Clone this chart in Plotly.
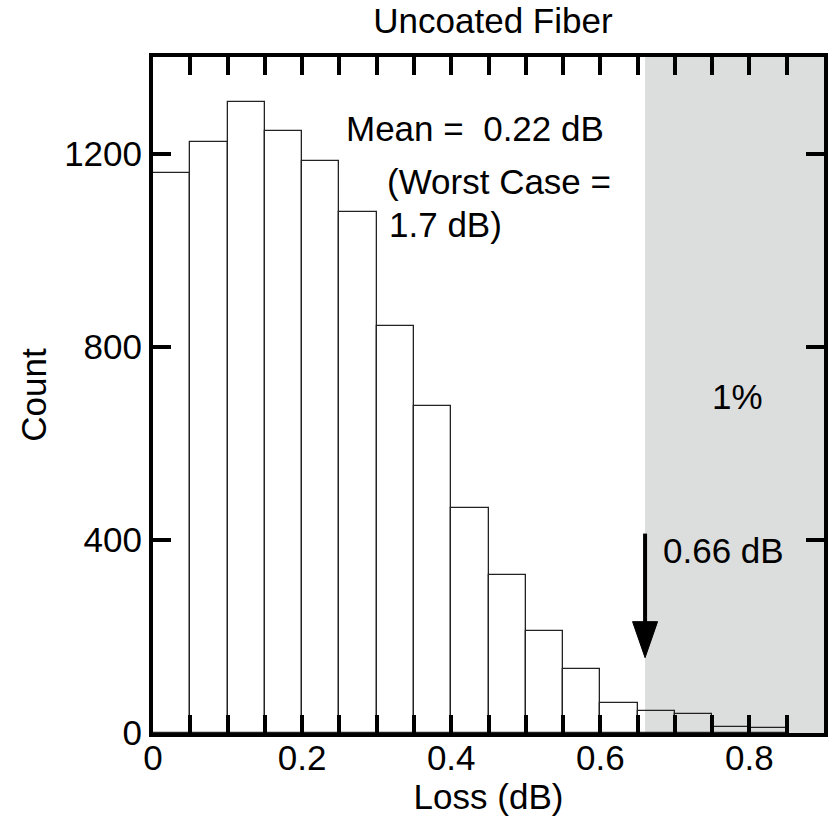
import plotly.graph_objects as go

# ---- data ----
bin_left = [0.00, 0.05, 0.10, 0.15, 0.20, 0.25, 0.30, 0.35, 0.40,
            0.45, 0.50, 0.55, 0.60, 0.65, 0.70, 0.75, 0.80]
counts = [1159, 1225, 1307, 1247, 1185, 1079, 843, 677, 465,
          328, 212, 132, 63, 46, 39, 13, 10]
bin_width = 0.05

x_tickvals = [0, 0.2, 0.4, 0.6, 0.8]
x_ticktext = ["0", "0.2", "0.4", "0.6", "0.8"]
y_tickvals = [0, 400, 800, 1200]
y_ticktext = ["0", "400", "800", "1200"]

x_range = [0, 0.9]
y_range = [0, 1400]

cutoff = 0.66          # 99th percentile (dB)
arrow_top = 413        # count where the arrow starts
arrow_tip = 156        # count where the arrow points

FONT = "Liberation Sans, Arial, sans-serif"
FS = 35

centers = [l + bin_width / 2 for l in bin_left]

fig = go.Figure()
fig.add_trace(go.Bar(
    x=centers, y=counts, width=[bin_width] * len(counts),
    marker=dict(color="rgba(0,0,0,0)", line=dict(color="#222222", width=1.3)),
    showlegend=False, hoverinfo="x+y",
))

# shaded tail region
fig.add_shape(type="rect", xref="x", yref="y", x0=cutoff, x1=x_range[1],
              y0=y_range[0], y1=y_range[1], fillcolor="#dcdddd",
              line=dict(width=0), layer="below")
# arrow shaft
fig.add_shape(type="line", xref="x", yref="y", x0=cutoff, x1=cutoff,
              y0=arrow_top, y1=arrow_tip + 40, line=dict(color="black", width=4))
# arrow head (pixel-sized triangle anchored at the tip)
fig.add_shape(type="path", xref="x", yref="y",
              xsizemode="pixel", ysizemode="pixel",
              xanchor=cutoff, yanchor=arrow_tip,
              path="M-12.5,36 L12.5,36 L0,0 Z",
              fillcolor="black", line=dict(color="black", width=1))

ann_font = dict(family=FONT, size=FS, color="black")
fig.add_annotation(x=0.2556, y=1252, xref="x", yref="y", text="Mean =\u00a0\u00a00.22 dB",
                   showarrow=False, xanchor="left", yanchor="middle", font=ann_font)
fig.add_annotation(x=0.3116, y=1143, xref="x", yref="y", text="(Worst Case =",
                   showarrow=False, xanchor="left", yanchor="middle", font=ann_font)
fig.add_annotation(x=0.3143, y=1054, xref="x", yref="y", text="1.7 dB)",
                   showarrow=False, xanchor="left", yanchor="middle", font=ann_font)
fig.add_annotation(x=0.7845, y=696, xref="x", yref="y", text="1%",
                   showarrow=False, xanchor="center", yanchor="middle", font=ann_font)
fig.add_annotation(x=0.682, y=377, xref="x", yref="y", text="0.66 dB",
                   showarrow=False, xanchor="left", yanchor="middle", font=ann_font)

fig.update_layout(
    width=832, height=819,
    margin=dict(l=153, r=4, t=57, b=86),
    paper_bgcolor="white", plot_bgcolor="white",
    font=dict(family=FONT, size=FS, color="black"),
    title=dict(text="Uncoated Fiber", x=0.5925, xanchor="center",
               y=1 - 21 / 819, yanchor="middle", font=dict(family=FONT, size=FS)),
    bargap=0,
)
fig.update_xaxes(
    range=x_range, tickvals=x_tickvals, ticktext=x_ticktext,
    ticks="inside", ticklen=18, tickwidth=4, tickcolor="black",
    showline=True, linewidth=4, linecolor="black", mirror="ticks",
    showgrid=False, zeroline=False,
    minor=dict(dtick=0.05, tick0=0, ticks="inside", ticklen=18, tickwidth=4,
               tickcolor="black", showgrid=False),
    ticklabelstandoff=-9,
    title=dict(text="Loss (dB)", standoff=0, font=dict(family=FONT, size=FS)),
    tickfont=dict(family=FONT, size=FS),
)
fig.update_yaxes(
    range=y_range, tickvals=y_tickvals, ticktext=y_ticktext,
    ticks="inside", ticklen=18, tickwidth=4, tickcolor="black",
    showline=True, linewidth=4, linecolor="black", mirror="ticks",
    showgrid=False, zeroline=False,
    title=dict(text="Count", standoff=8, font=dict(family=FONT, size=FS)),
    tickfont=dict(family=FONT, size=FS),
)

fig.write_html("out.html")
